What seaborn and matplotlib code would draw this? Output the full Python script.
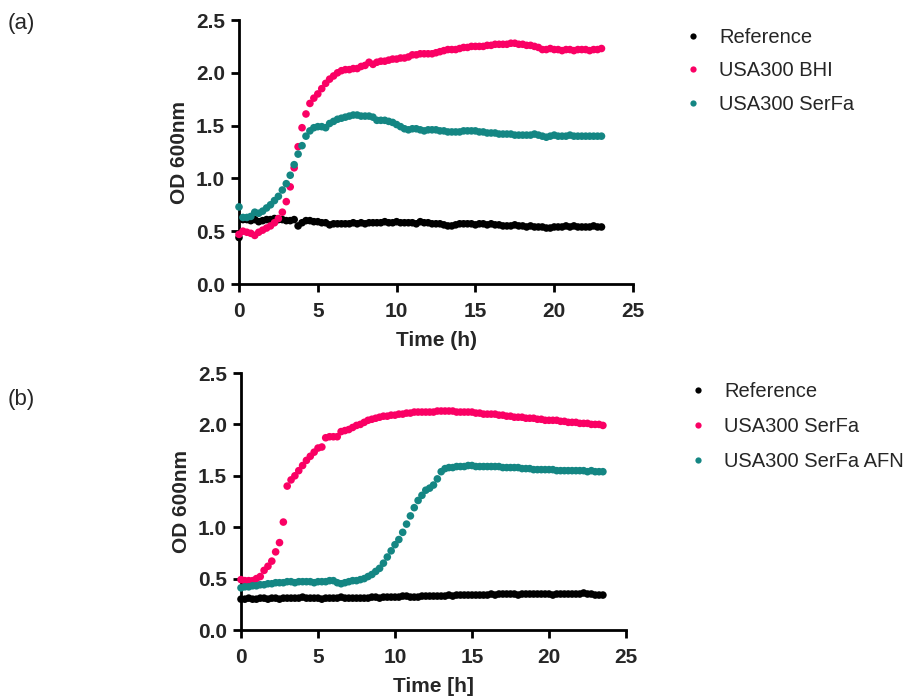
import numpy as np
import pandas as pd
import matplotlib
matplotlib.use("Agg")
import matplotlib.pyplot as plt
from matplotlib.lines import Line2D
import seaborn as sns

sns.set_theme(style="ticks")
plt.rcParams['font.family'] = ['Liberation Sans', 'DejaVu Sans']

# ---------------- data (15-min sampling) ----------------
step_h = 0.25

# Panel (a)
a_reference = [0.44, 0.61, 0.61, 0.60, 0.61, 0.59, 0.60, 0.61, 0.61, 0.62, 0.61, 0.61,
               0.60, 0.60, 0.61, 0.55, 0.58, 0.60, 0.60, 0.59, 0.59, 0.58, 0.58, 0.56,
               0.57, 0.57, 0.57, 0.57, 0.57, 0.58, 0.57, 0.58, 0.57, 0.58, 0.58, 0.58,
               0.58, 0.59, 0.58, 0.58, 0.59, 0.58, 0.58, 0.58, 0.58, 0.57, 0.59, 0.58,
               0.58, 0.57, 0.57, 0.57, 0.56, 0.55, 0.55, 0.56, 0.57, 0.57, 0.57, 0.57,
               0.56, 0.57, 0.57, 0.56, 0.57, 0.56, 0.56, 0.55, 0.55, 0.55, 0.56, 0.55,
               0.55, 0.54, 0.55, 0.54, 0.54, 0.54, 0.53, 0.53, 0.54, 0.54, 0.54, 0.55,
               0.54, 0.55, 0.54, 0.54, 0.54, 0.54, 0.55, 0.54, 0.54]
a_bhi = [0.47, 0.50, 0.49, 0.48, 0.46, 0.49, 0.51, 0.53, 0.55, 0.58, 0.62, 0.68,
         0.78, 0.92, 1.10, 1.30, 1.48, 1.61, 1.71, 1.76, 1.80, 1.85, 1.90, 1.94,
         1.97, 2.00, 2.02, 2.03, 2.03, 2.04, 2.04, 2.06, 2.07, 2.10, 2.08, 2.10,
         2.11, 2.11, 2.12, 2.13, 2.13, 2.14, 2.14, 2.15, 2.17, 2.17, 2.18, 2.18,
         2.18, 2.18, 2.19, 2.20, 2.21, 2.22, 2.22, 2.22, 2.23, 2.24, 2.24, 2.25,
         2.25, 2.25, 2.25, 2.26, 2.26, 2.27, 2.27, 2.27, 2.27, 2.28, 2.28, 2.27,
         2.27, 2.26, 2.26, 2.25, 2.24, 2.22, 2.22, 2.23, 2.22, 2.22, 2.21, 2.22,
         2.22, 2.21, 2.22, 2.22, 2.22, 2.21, 2.22, 2.22, 2.23]
a_serfa = [0.73, 0.63, 0.63, 0.64, 0.68, 0.67, 0.69, 0.72, 0.75, 0.79, 0.83, 0.89,
           0.95, 1.03, 1.13, 1.23, 1.31, 1.40, 1.45, 1.48, 1.49, 1.49, 1.48, 1.52,
           1.54, 1.56, 1.57, 1.58, 1.59, 1.60, 1.60, 1.59, 1.59, 1.59, 1.58, 1.55,
           1.55, 1.55, 1.54, 1.53, 1.51, 1.49, 1.47, 1.46, 1.47, 1.47, 1.46, 1.45,
           1.46, 1.46, 1.46, 1.45, 1.45, 1.44, 1.44, 1.44, 1.44, 1.45, 1.45, 1.45,
           1.45, 1.44, 1.44, 1.43, 1.43, 1.43, 1.42, 1.42, 1.42, 1.42, 1.41, 1.41,
           1.41, 1.41, 1.41, 1.42, 1.41, 1.40, 1.39, 1.40, 1.41, 1.40, 1.40, 1.40,
           1.41, 1.40, 1.40, 1.40, 1.40, 1.40, 1.40, 1.40, 1.40]

# Panel (b)
b_reference = [0.30, 0.30, 0.31, 0.30, 0.30, 0.31, 0.31, 0.30, 0.31, 0.31, 0.30, 0.31,
               0.31, 0.31, 0.31, 0.31, 0.32, 0.31, 0.31, 0.31, 0.31, 0.30, 0.31, 0.31,
               0.31, 0.31, 0.32, 0.31, 0.31, 0.31, 0.31, 0.31, 0.31, 0.31, 0.32, 0.32,
               0.31, 0.32, 0.32, 0.32, 0.32, 0.32, 0.33, 0.33, 0.32, 0.32, 0.32, 0.33,
               0.33, 0.33, 0.33, 0.33, 0.33, 0.33, 0.34, 0.33, 0.34, 0.34, 0.34, 0.34,
               0.34, 0.34, 0.34, 0.34, 0.34, 0.35, 0.34, 0.35, 0.35, 0.35, 0.35, 0.35,
               0.34, 0.35, 0.35, 0.35, 0.35, 0.35, 0.35, 0.35, 0.35, 0.34, 0.35, 0.35,
               0.35, 0.35, 0.35, 0.35, 0.35, 0.36, 0.35, 0.35, 0.34, 0.34, 0.34]
b_serfa = [0.49, 0.48, 0.48, 0.48, 0.50, 0.52, 0.58, 0.62, 0.67, 0.76, 0.85, 1.05,
           1.40, 1.46, 1.50, 1.55, 1.60, 1.65, 1.69, 1.73, 1.77, 1.78, 1.87, 1.88,
           1.88, 1.88, 1.93, 1.94, 1.95, 1.97, 1.99, 2.00, 2.02, 2.04, 2.05, 2.06,
           2.07, 2.08, 2.08, 2.09, 2.09, 2.10, 2.10, 2.11, 2.11, 2.12, 2.12, 2.12,
           2.12, 2.12, 2.12, 2.13, 2.13, 2.13, 2.13, 2.13, 2.12, 2.12, 2.12, 2.12,
           2.12, 2.11, 2.11, 2.10, 2.10, 2.10, 2.10, 2.09, 2.09, 2.08, 2.08, 2.07,
           2.07, 2.07, 2.06, 2.06, 2.06, 2.05, 2.05, 2.04, 2.04, 2.04, 2.04, 2.03,
           2.03, 2.02, 2.02, 2.02, 2.01, 2.01, 2.01, 2.00, 2.00, 2.00, 1.99]
b_serfa_afn = [0.41, 0.42, 0.42, 0.43, 0.43, 0.44, 0.44, 0.45, 0.45, 0.46, 0.46, 0.46,
               0.47, 0.47, 0.46, 0.47, 0.47, 0.47, 0.47, 0.46, 0.47, 0.47, 0.47, 0.48,
               0.48, 0.46, 0.45, 0.46, 0.47, 0.48, 0.48, 0.49, 0.50, 0.52, 0.54, 0.57,
               0.60, 0.65, 0.71, 0.77, 0.83, 0.88, 0.95, 1.03, 1.11, 1.19, 1.26, 1.31,
               1.36, 1.38, 1.41, 1.47, 1.54, 1.57, 1.58, 1.58, 1.59, 1.59, 1.59, 1.60,
               1.60, 1.59, 1.59, 1.59, 1.59, 1.59, 1.59, 1.59, 1.58, 1.58, 1.58, 1.58,
               1.58, 1.57, 1.57, 1.57, 1.56, 1.56, 1.56, 1.56, 1.56, 1.56, 1.55, 1.55,
               1.55, 1.55, 1.55, 1.55, 1.55, 1.55, 1.54, 1.55, 1.54, 1.54, 1.54]

labels_a = ["Reference", "USA300 BHI", "USA300 SerFa"]
labels_b = ["Reference", "USA300 SerFa", "USA300 SerFa AFN"]
xticks = [0, 5, 10, 15, 20, 25]
yticks = [0.0, 0.5, 1.0, 1.5, 2.0, 2.5]

colors = ["#000000", "#FA0064", "#148683"]


def make_df(series, labels):
    frames = []
    for vals, lab in zip(series, labels):
        t = np.arange(len(vals)) * step_h
        frames.append(pd.DataFrame({"Time": t, "OD": vals, "Series": lab}))
    return pd.concat(frames, ignore_index=True)


df_a = make_df([a_reference, a_bhi, a_serfa], labels_a)
df_b = make_df([b_reference, b_serfa, b_serfa_afn], labels_b)

W, H = 921, 697
fig = plt.figure(figsize=(W / 100, H / 100), dpi=100)
ax_a = fig.add_axes([239 / W, 1 - 284 / H, (633 - 239) / W, (284 - 20) / H])
ax_b = fig.add_axes([241 / W, 1 - 630 / H, (626 - 241) / W, (630 - 373) / H])


def style(ax, df, labels, xlabel):
    pal = dict(zip(labels, colors))
    sns.scatterplot(data=df, x="Time", y="OD", hue="Series", hue_order=labels,
                    palette=pal, s=30, edgecolor="none", linewidth=0,
                    legend=False, clip_on=False, ax=ax, zorder=3)
    ax.set_xlim(0, 25)
    ax.set_ylim(0, 2.5)
    ax.set_xticks(xticks)
    ax.set_yticks(yticks)
    ax.set_xticklabels([str(v) for v in xticks])
    ax.set_yticklabels([f"{v:.1f}" for v in yticks])
    for sp in ["top", "right"]:
        ax.spines[sp].set_visible(False)
    for sp in ["left", "bottom"]:
        ax.spines[sp].set_linewidth(2)
        ax.spines[sp].set_color("black")
    ax.tick_params(axis="both", direction="out", length=6, width=2, color="black",
                   labelsize=15, pad=4)
    ax.tick_params(axis="x", pad=7)
    for lab in ax.get_xticklabels() + ax.get_yticklabels():
        lab.set_fontweight("bold")
    ax.set_xlabel(xlabel, fontsize=15, fontweight="bold", labelpad=7)
    ax.set_ylabel("OD 600nm", fontsize=15, fontweight="bold", labelpad=5)


style(ax_a, df_a, labels_a, "Time (h)")
style(ax_b, df_b, labels_b, "Time [h]")


def add_legend(ax, labels, x, y, spacing):
    handles = [Line2D([], [], linestyle="", marker="o", markersize=4.5,
                      markerfacecolor=c, markeredgecolor="none", color=c)
               for c in colors]
    ax.legend(handles, labels, loc="upper left", bbox_to_anchor=(x, y),
              bbox_transform=fig.transFigure, frameon=False, fontsize=14.5,
              handlelength=1.0, handletextpad=0.8, labelspacing=spacing,
              borderaxespad=0, borderpad=0)


add_legend(ax_a, labels_a, 683 / W, 1 - 28 / H, 0.72)
add_legend(ax_b, labels_b, 688 / W, 1 - 382 / H, 0.8)

fig.text(8 / W, 1 - 24 / H, "(a)", fontsize=16, va="center", ha="left")
fig.text(8 / W, 1 - 400 / H, "(b)", fontsize=16, va="center", ha="left")

fig.savefig("out.png", dpi=100, facecolor="white")
